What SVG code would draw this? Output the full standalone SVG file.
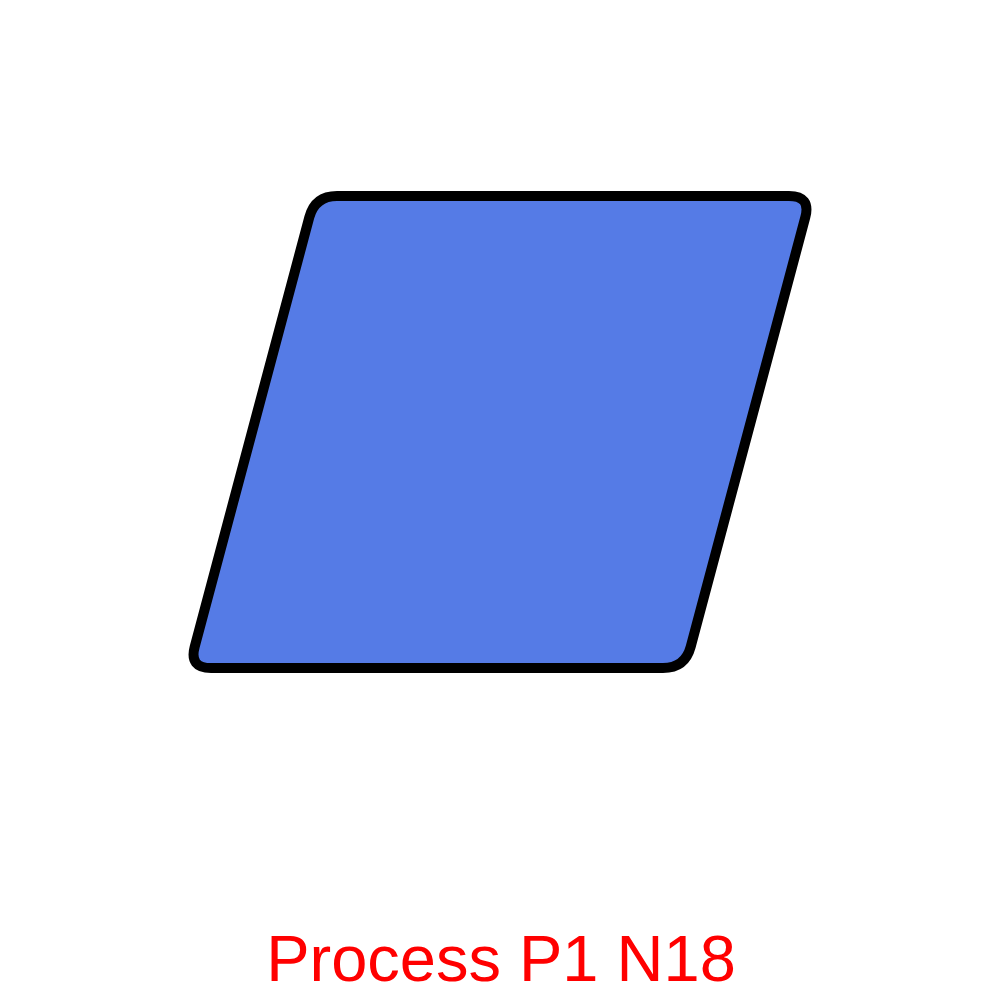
<svg xmlns="http://www.w3.org/2000/svg" width="1000" height="1000" viewBox="0 0 1000 1000">
<style>
.shape{fill:#557BE6;stroke:#000;stroke-width:10;stroke-linejoin:round}
.label{font-family:"Liberation Sans",Arial,sans-serif;font-size:65px;fill:#FF0000;text-anchor:middle}
</style>
<rect width="1000" height="1000" fill="#fff"/>
<g id="node-p1-n18">
<path class="shape" d="M337,196 L789,196 Q811,196 805.3,217.3 L690.7,646.7 Q685,668 663,668 L211,668 Q189,668 194.7,646.7 L309.3,217.3 Q315,196 337,196 Z"/>
</g>
<g id="connectors"></g>
<text class="label" x="501" y="981">Process P1 N18</text>
</svg>
